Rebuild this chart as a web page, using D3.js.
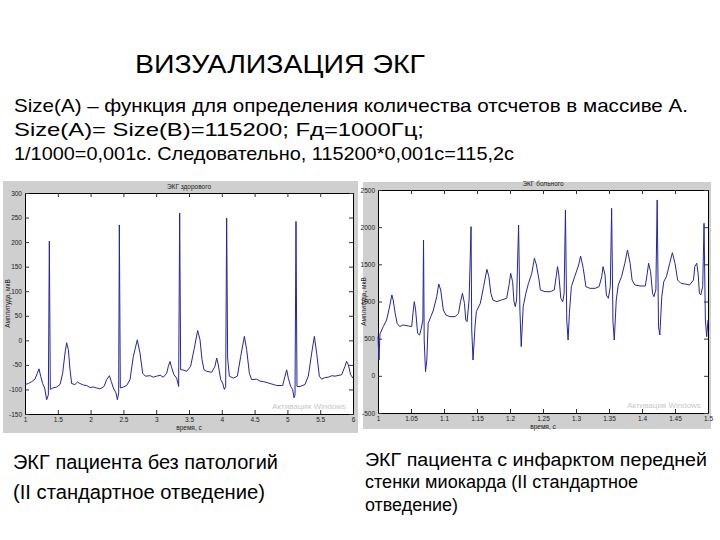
<!DOCTYPE html>
<html>
<head>
<meta charset="utf-8">
<title>Визуализация ЭКГ</title>
<script src="https://cdn.jsdelivr.net/npm/d3@7"></script>
<style>
  body { margin: 0; background: #fff; }
  svg text { font-family: "Liberation Sans", Arial, sans-serif; }
</style>
</head>
<body>
<svg id="slide" width="720" height="540"></svg>
<script>
// ЭКГ без патологий (x в 10^4 отсчетов, y в условных единицах)
const normalT = [1.000,1.051,1.102,1.152,1.188,1.213,1.239,1.269,1.300,1.330,1.356,1.371,1.386,1.422,1.483,1.534,1.574,1.610,1.635,1.661,1.686,1.711,1.762,1.800,1.838,1.890,1.940,1.990,2.042,2.090,2.143,2.204,2.245,2.286,2.316,2.347,2.387,2.408,2.428,2.438,2.453,2.499,2.550,2.601,2.651,2.712,2.753,2.794,2.834,2.906,2.960,3.007,3.060,3.109,3.160,3.185,3.210,3.236,3.271,3.312,3.342,3.358,3.373,3.403,3.464,3.525,3.576,3.632,3.668,3.698,3.729,3.769,3.846,3.896,3.922,3.947,3.983,4.013,4.039,4.059,4.074,4.089,4.115,4.176,4.237,4.288,4.344,4.379,4.420,4.455,4.532,4.580,4.633,4.690,4.735,4.790,4.837,4.928,4.963,4.989,5.014,5.050,5.080,5.101,5.116,5.131,5.146,5.192,5.268,5.319,5.370,5.411,5.446,5.487,5.522,5.570,5.624,5.680,5.726,5.827,5.878,5.903,5.929,5.964,6.000];
const normalV = [-90,-88,-84,-79,-67,-58,-73,-88,-97,-121,-111,202,-100,-97,-95,-90,-67,-26,-5,-19,-60,-88,-90,-85,-88,-91,-92,-96,-95,-97,-99,-94,-80,-72,-84,-97,-107,-121,-107,235,-97,-95,-92,-80,-33,1,-26,-67,-73,-72,-75,-73,-71,-75,-67,-53,-43,-56,-70,-77,-94,259,-60,-60,-63,-53,-19,20,1,-39,-60,-63,-65,-53,-36,-50,-80,-87,-100,-94,249,-36,-73,-77,-73,-33,8,-19,-67,-80,-79,-83,-84,-86,-88,-90,-92,-92,-73,-60,-77,-94,-100,-117,-111,242,-94,-94,-90,-73,-26,8,-26,-73,-79,-76,-75,-72,-73,-70,-53,-43,-50,-70,-77];

// ЭКГ при инфаркте передней стенки
const infarctT = [1.000,1.0015,1.003,1.008,1.013,1.017,1.021,1.023,1.026,1.029,1.033,1.038,1.046,1.051,1.053,1.055,1.057,1.060,1.063,1.065,1.068,1.069,1.070,1.072,1.074,1.076,1.080,1.084,1.089,1.092,1.095,1.099,1.103,1.109,1.117,1.122,1.125,1.128,1.131,1.133,1.135,1.138,1.141,1.142,1.144,1.147,1.149,1.155,1.160,1.165,1.168,1.171,1.174,1.180,1.187,1.195,1.199,1.201,1.204,1.206,1.208,1.210,1.213,1.215,1.217,1.220,1.224,1.228,1.233,1.237,1.240,1.244,1.246,1.253,1.261,1.267,1.270,1.272,1.274,1.277,1.280,1.282,1.284,1.286,1.288,1.290,1.293,1.298,1.304,1.307,1.311,1.315,1.321,1.329,1.335,1.339,1.341,1.344,1.346,1.349,1.352,1.354,1.356,1.358,1.361,1.364,1.369,1.374,1.378,1.382,1.385,1.389,1.397,1.405,1.408,1.410,1.413,1.416,1.418,1.421,1.423,1.425,1.427,1.430,1.433,1.437,1.442,1.446,1.450,1.454,1.459,1.465,1.472,1.478,1.480,1.483,1.485,1.487,1.489,1.492,1.494,1.496,1.498,1.500];
const infarctV = [527,213,563,662,751,908,1088,1020,841,706,662,684,671,662,841,998,886,572,549,617,751,1827,482,56,213,706,796,886,1065,1236,1155,886,818,796,796,841,998,1110,975,751,729,1020,2007,617,213,662,863,975,1200,1433,1334,1110,1020,998,1020,1043,1244,1379,1267,1000,931,1020,2029,886,393,931,1110,1244,1379,1581,1491,1289,1155,1132,1132,1155,1334,1469,1357,1043,998,1110,2231,751,482,841,1200,1334,1491,1612,1446,1200,1177,1177,1200,1334,1469,1357,1088,1043,1200,2253,729,482,1020,1222,1334,1514,1693,1514,1289,1222,1209,1209,1379,1514,1401,1110,1065,1155,2365,662,549,1065,1267,1334,1514,1657,1514,1289,1244,1236,1222,1289,1469,1514,1379,1110,1088,1200,2052,751,527,751];

const normalXTicks = [1,1.5,2,2.5,3,3.5,4,4.5,5,5.5,6];
const normalYTicks = [-150,-100,-50,0,50,100,150,200,250,300];
const infarctXTicks = [1,1.05,1.1,1.15,1.2,1.25,1.3,1.35,1.4,1.45,1.5];
const infarctYTicks = [-500,0,500,1000,1500,2000,2500];

const svg = d3.select("#slide");

// заголовок и текст слайда
svg.append("text").attr("x", 135).attr("y", 73)
  .attr("font-size", 26).attr("textLength", 290).attr("lengthAdjust", "spacingAndGlyphs")
  .text("ВИЗУАЛИЗАЦИЯ ЭКГ");

const bodyLines = [
  {t: "Size(A) – функция для определения количества отсчетов в массиве А.", w: 674},
  {t: "Size(A)= Size(B)=115200; Fд=1000Гц;", w: 410},
  {t: "1/1000=0,001с. Следовательно, 115200*0,001с=115,2с", w: 500}
];
svg.selectAll("text.body").data(bodyLines).enter().append("text")
  .attr("class", "body")
  .attr("x", 14).attr("y", (d, i) => 112 + i * 24)
  .attr("font-size", 18.5)
  .attr("textLength", d => d.w).attr("lengthAdjust", "spacingAndGlyphs")
  .text(d => d.t);

function drawPanel(cfg) {
  const g = svg.append("g");
  g.append("rect").attr("x", cfg.panel[0]).attr("y", cfg.panel[1])
    .attr("width", cfg.panel[2]).attr("height", cfg.panel[3]).attr("fill", "#cfcfcf");

  const [x0, y0, x1, y1] = cfg.box;
  const x = d3.scaleLinear().domain(d3.extent(cfg.xTicks)).range([x0, x1]);
  const y = d3.scaleLinear().domain(d3.extent(cfg.yTicks)).range([y1, y0]);

  g.append("rect").attr("x", x0).attr("y", y0).attr("width", x1 - x0).attr("height", y1 - y0)
    .attr("fill", "#fff");

  const axes = [
    [d3.axisBottom(x), y1, 0, true],
    [d3.axisTop(x), y0, 0, false],
    [d3.axisLeft(y), 0, x0, true],
    [d3.axisRight(y), 0, x1, false]
  ];
  axes.forEach(([ax, ty, tx, labels], i) => {
    ax.tickValues(i < 2 ? cfg.xTicks : cfg.yTicks).tickSizeInner(-4).tickSizeOuter(0).tickPadding(3)
      .tickFormat(labels ? (d => String(d)) : "");
    const a = g.append("g").attr("transform", `translate(${tx},${ty})`).call(ax);
    a.selectAll("path").attr("stroke", "#000");
    a.selectAll("line").attr("stroke", "#333");
    a.selectAll("text").attr("font-size", 6.5).attr("fill", "#222")
      .style("font-family", "'Liberation Sans', Arial, sans-serif");
  });

  const line = d3.line().x(d => x(d[0])).y(d => y(d[1]));
  g.append("path").datum(d3.zip(cfg.t, cfg.v))
    .attr("d", line).attr("fill", "none")
    .attr("stroke", "#25259e").attr("stroke-width", 1).attr("stroke-linejoin", "round");

  g.append("text").attr("x", (x0 + x1) / 2).attr("y", y0 - 4).attr("text-anchor", "middle")
    .attr("font-size", 6.5).attr("fill", "#222").text(cfg.title);
  g.append("text").attr("x", (x0 + x1) / 2).attr("y", y1 + 16).attr("text-anchor", "middle")
    .attr("font-size", 6.5).attr("fill", "#222").text("время, с");
  g.append("text").attr("transform", `translate(${cfg.yLabelX},${(y0 + y1) / 2}) rotate(-90)`)
    .attr("text-anchor", "middle").attr("font-size", 6.5).attr("fill", "#222")
    .text("Амплитуда, мкВ");
  g.append("text").attr("x", x1 - 44).attr("y", y1 - 5).attr("text-anchor", "middle")
    .attr("font-size", 8).attr("fill", "#c8c8c8").text("Активация Windows");
}

drawPanel({panel: [3, 181, 355, 252], box: [25, 193, 353, 414],
  xTicks: normalXTicks, yTicks: normalYTicks, t: normalT, v: normalV,
  title: "ЭКГ здорового", yLabelX: 10});
drawPanel({panel: [363, 182, 348, 247], box: [378, 190, 708, 413],
  xTicks: infarctXTicks, yTicks: infarctYTicks, t: infarctT, v: infarctV,
  title: "ЭКГ больного", yLabelX: 366});

// подписи под графиками
const leftCaption = [
  {t: "ЭКГ пациента без патологий", w: 265, y: 469},
  {t: "(II стандартное отведение)", w: 252, y: 499}
];
const rightCaption = [
  {t: "ЭКГ пациента с инфарктом передней", w: 342, y: 466},
  {t: "стенки миокарда (II стандартное", w: 273, y: 488},
  {t: "отведение)", w: 93, y: 511}
];
svg.selectAll("text.capL").data(leftCaption).enter().append("text")
  .attr("class", "capL").attr("x", 13).attr("y", d => d.y).attr("font-size", 20)
  .attr("textLength", d => d.w).attr("lengthAdjust", "spacingAndGlyphs").text(d => d.t);
svg.selectAll("text.capR").data(rightCaption).enter().append("text")
  .attr("class", "capR").attr("x", 365).attr("y", d => d.y).attr("font-size", 18)
  .attr("textLength", d => d.w).attr("lengthAdjust", "spacingAndGlyphs").text(d => d.t);
</script>
</body>
</html>
